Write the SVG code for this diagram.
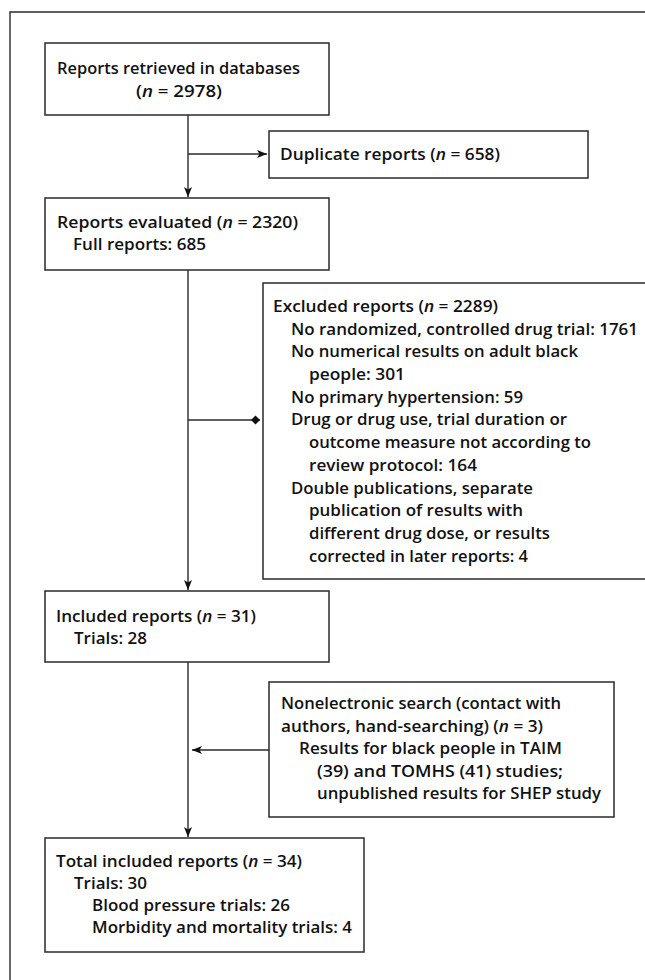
<svg xmlns="http://www.w3.org/2000/svg" width="645" height="980" viewBox="0 0 645 980">
<style>
.box{fill:#fff;stroke:#2a2a2a;stroke-width:1.5}
.ln{fill:none;stroke:#2a2a2a;stroke-width:1.4}
text{font-family:"Open Sans","Noto Sans",sans-serif;font-weight:600;font-size:17px;fill:#111}
.i{font-style:italic}
</style>
<defs>
<marker id="ah" viewBox="0 0 10 10" refX="10" refY="5" markerWidth="10" markerHeight="10" markerUnits="userSpaceOnUse" orient="auto">
<path d="M0,1 L10,5 L0,9 L2.5,5 Z" fill="#111"/>
</marker>
<marker id="dm" viewBox="0 0 10 10" refX="10" refY="5" markerWidth="9" markerHeight="10" markerUnits="userSpaceOnUse" orient="auto">
<path d="M0,5 L5,0 L10,5 L5,10 Z" fill="#111"/>
</marker>
</defs>
<rect x="0" y="0" width="645" height="980" fill="#fff"/>
<path d="M10,980 V12 H645" fill="none" stroke="#2a2a2a" stroke-width="1.4"/>
<g id="connectors">
<line class="ln" x1="188" y1="115" x2="188" y2="197" marker-end="url(#ah)"/>
<line class="ln" x1="188" y1="154" x2="267" y2="154" marker-end="url(#ah)"/>
<line class="ln" x1="188" y1="270" x2="188" y2="590" marker-end="url(#ah)"/>
<line class="ln" x1="188" y1="420" x2="260" y2="420" marker-end="url(#dm)"/>
<line class="ln" x1="188" y1="662" x2="188" y2="837" marker-end="url(#ah)"/>
<line class="ln" x1="269" y1="750" x2="192" y2="750" marker-end="url(#ah)"/>
</g>
<g id="retrieved">
<rect class="box" x="45" y="43" width="284" height="72"/>
<text x="57" y="74" textLength="243" lengthAdjust="spacingAndGlyphs">Reports retrieved in databases</text>
<text x="136" y="97" textLength="86" lengthAdjust="spacingAndGlyphs">(<tspan class="i">n</tspan> = 2978)</text>
</g>
<g id="duplicate">
<rect class="box" x="269" y="131" width="319" height="47"/>
<text x="280" y="160" textLength="220" lengthAdjust="spacingAndGlyphs">Duplicate reports (<tspan class="i">n</tspan> = 658)</text>
</g>
<g id="evaluated">
<rect class="box" x="45" y="198" width="284" height="72"/>
<text x="57" y="228" textLength="241" lengthAdjust="spacingAndGlyphs">Reports evaluated (<tspan class="i">n</tspan> = 2320)</text>
<text x="73" y="250" textLength="133" lengthAdjust="spacingAndGlyphs">Full reports: 685</text>
</g>
<g id="excluded">
<rect class="box" x="263" y="283" width="390" height="296"/>
<text x="273" y="312" textLength="225" lengthAdjust="spacingAndGlyphs">Excluded reports (<tspan class="i">n</tspan> = 2289)</text>
<text x="291" y="335" textLength="347" lengthAdjust="spacingAndGlyphs">No randomized, controlled drug trial: 1761</text>
<text x="291" y="357" textLength="287" lengthAdjust="spacingAndGlyphs">No numerical results on adult black</text>
<text x="309" y="380" textLength="96" lengthAdjust="spacingAndGlyphs">people: 301</text>
<text x="291" y="403" textLength="232" lengthAdjust="spacingAndGlyphs">No primary hypertension: 59</text>
<text x="291" y="425" textLength="276" lengthAdjust="spacingAndGlyphs">Drug or drug use, trial duration or</text>
<text x="309" y="448" textLength="282" lengthAdjust="spacingAndGlyphs">outcome measure not according to</text>
<text x="309" y="471" textLength="168" lengthAdjust="spacingAndGlyphs">review protocol: 164</text>
<text x="291" y="494" textLength="242" lengthAdjust="spacingAndGlyphs">Double publications, separate</text>
<text x="309" y="516" textLength="214" lengthAdjust="spacingAndGlyphs">publication of results with</text>
<text x="309" y="539" textLength="241" lengthAdjust="spacingAndGlyphs">different drug dose, or results</text>
<text x="309" y="562" textLength="219" lengthAdjust="spacingAndGlyphs">corrected in later reports: 4</text>
</g>
<g id="included">
<rect class="box" x="45" y="591" width="284" height="71"/>
<text x="56" y="622" textLength="200" lengthAdjust="spacingAndGlyphs">Included reports (<tspan class="i">n</tspan> = 31)</text>
<text x="74" y="644" textLength="73" lengthAdjust="spacingAndGlyphs">Trials: 28</text>
</g>
<g id="nonelectronic">
<rect class="box" x="269" y="682" width="345" height="135"/>
<text x="281" y="709" textLength="280" lengthAdjust="spacingAndGlyphs">Nonelectronic search (contact with</text>
<text x="281" y="732" textLength="262" lengthAdjust="spacingAndGlyphs">authors, hand-searching) (<tspan class="i">n</tspan> = 3)</text>
<text x="299" y="754" textLength="263" lengthAdjust="spacingAndGlyphs">Results for black people in TAIM</text>
<text x="317" y="777" textLength="246" lengthAdjust="spacingAndGlyphs">(39) and TOMHS (41) studies;</text>
<text x="317" y="799" textLength="284" lengthAdjust="spacingAndGlyphs">unpublished results for SHEP study</text>
</g>
<g id="total">
<rect class="box" x="45" y="838" width="319" height="114"/>
<text x="56" y="867" textLength="246" lengthAdjust="spacingAndGlyphs">Total included reports (<tspan class="i">n</tspan> = 34)</text>
<text x="74" y="889" textLength="73" lengthAdjust="spacingAndGlyphs">Trials: 30</text>
<text x="92" y="911" textLength="198" lengthAdjust="spacingAndGlyphs">Blood pressure trials: 26</text>
<text x="92" y="933" textLength="260" lengthAdjust="spacingAndGlyphs">Morbidity and mortality trials: 4</text>
</g>
</svg>
